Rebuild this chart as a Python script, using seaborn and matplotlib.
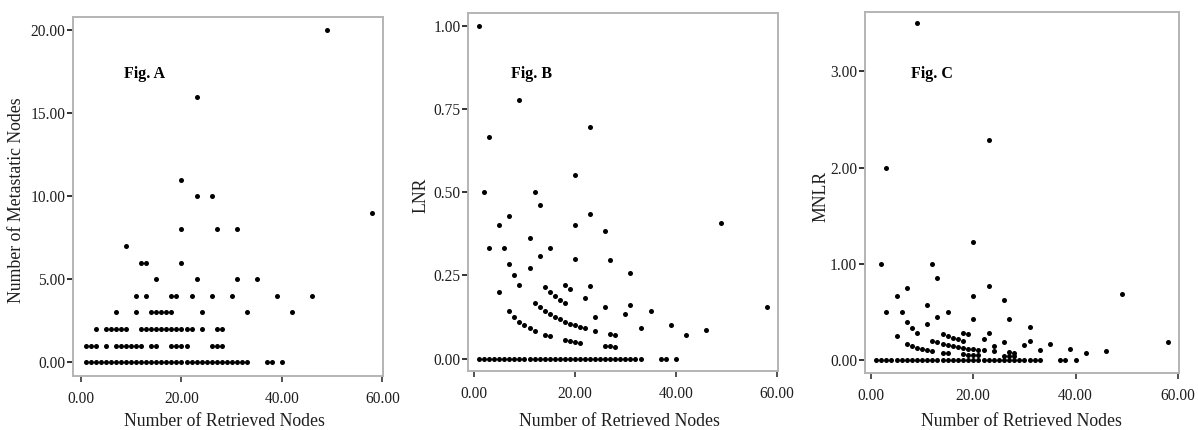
# Three SPSS-style scatter panels: metastatic nodes, LNR and MNLR
# against the number of retrieved nodes.

import numpy as np
import pandas as pd
import matplotlib
matplotlib.use('Agg')
import matplotlib.pyplot as plt
from matplotlib.ticker import FormatStrFormatter
import seaborn as sns

RETRIEVED_M0 = [1, 2, 3, 4, 5, 6, 7, 8, 9, 10, 11, 12, 13, 14, 15, 16, 17, 18, 19, 20,
                21, 22, 23, 24, 25, 26, 27, 28, 29, 30, 31, 32, 33, 37, 38, 40]
RETRIEVED_M1 = [1, 2, 3, 5, 7, 8, 9, 10, 11, 12, 14, 15, 18, 19, 20, 21, 26, 27, 28]
RETRIEVED_M2 = [3, 5, 6, 7, 8, 9, 12, 13, 14, 15, 16, 17, 18, 19, 20, 21, 22, 24, 27, 28]
RETRIEVED_M3 = [7, 11, 14, 15, 16, 17, 18, 24, 33, 42]
RETRIEVED_M4 = [11, 13, 18, 19, 22, 26, 30, 39, 46]
RETRIEVED_M5 = [15, 23, 31, 35]
RETRIEVED_M6 = [12, 13, 20]
RETRIEVED_M7 = [9]
RETRIEVED_M8 = [20, 27, 31]
RETRIEVED_M9 = [58]
RETRIEVED_M10 = [23, 26]
RETRIEVED_M11 = [20]
RETRIEVED_M16 = [23]
RETRIEVED_M20 = [49]

GROUPS = [(0, RETRIEVED_M0), (1, RETRIEVED_M1), (2, RETRIEVED_M2), (3, RETRIEVED_M3),
          (4, RETRIEVED_M4), (5, RETRIEVED_M5), (6, RETRIEVED_M6), (7, RETRIEVED_M7),
          (8, RETRIEVED_M8), (9, RETRIEVED_M9), (10, RETRIEVED_M10), (11, RETRIEVED_M11),
          (16, RETRIEVED_M16), (20, RETRIEVED_M20)]

X_TICKS = [0, 20, 40, 60]
A_TICKS = [0, 5, 10, 15, 20]
B_TICKS = [0, 0.25, 0.5, 0.75, 1.0]
C_TICKS = [0, 1, 2, 3]

SPINE_GREY = '#b4b4b4'
TEXT = '#1e1e1e'


def build_frame():
    rows = [(r, m) for m, rs in GROUPS for r in rs]
    df = pd.DataFrame(rows, columns=['retrieved', 'metastatic'])
    df['lnr'] = df['metastatic'] / df['retrieved']
    negative = df['retrieved'] - df['metastatic']
    # MNLR = metastatic / negative nodes; undefined when every node is positive
    df['mnlr'] = np.where(negative > 0, df['metastatic'] / negative.replace(0, np.nan), np.nan)
    return df


def style_axis(ax, xlim, ylim, yticks):
    ax.set_xlim(*xlim)
    ax.set_ylim(*ylim)
    ax.set_xticks(X_TICKS)
    ax.set_yticks(yticks)
    ax.xaxis.set_major_formatter(FormatStrFormatter('%.2f'))
    ax.yaxis.set_major_formatter(FormatStrFormatter('%.2f'))
    for s in ax.spines.values():
        s.set_visible(True)
        s.set_color(SPINE_GREY)
        s.set_linewidth(1.4)
    ax.tick_params(axis='y', direction='out', length=4, width=1.4, pad=1.5,
                   color='#333333', labelsize=11.2, labelcolor=TEXT, left=True)
    ax.tick_params(axis='x', direction='out', length=4, width=1.2, pad=7,
                   color='#333333', labelsize=11.2, labelcolor=TEXT, bottom=True)


def draw_panel(ax, df, ycol, ylabel, tag, xlim, ylim, yticks, ylab_x, xlab_pos, tag_pos):
    sns.scatterplot(data=df, x='retrieved', y=ycol, ax=ax, color='black',
                    s=13, linewidth=0, legend=False)
    style_axis(ax, xlim, ylim, yticks)
    ax.set_xlabel('Number of Retrieved Nodes', fontsize=12.8, color=TEXT)
    ax.set_ylabel(ylabel, fontsize=12.8, color=TEXT)
    ax.xaxis.set_label_coords(*xlab_pos)
    ax.xaxis.label.set_va('center')
    ax.yaxis.set_label_coords(ylab_x, 0.49)
    ax.yaxis.label.set_va('center')
    ax.text(tag_pos[0], tag_pos[1], tag, transform=ax.transAxes, fontsize=11.5,
            fontweight='bold', va='center', ha='left', color='black')


def main():
    sns.set_style('white')
    plt.rcParams['font.family'] = ['Liberation Serif', 'DejaVu Serif']

    df = build_frame()

    fig = plt.figure(figsize=(11.98, 4.30), dpi=100)
    ax_a = fig.add_axes([0.0609, 0.1256, 0.2588, 0.8349])
    ax_b = fig.add_axes([0.3909, 0.1372, 0.2583, 0.8319])
    ax_c = fig.add_axes([0.7220, 0.1326, 0.2621, 0.8402])

    draw_panel(ax_a, df, 'metastatic', 'Number of Metastatic Nodes', 'Fig. A',
               (-1.6, 60.1), (-0.83, 20.8), A_TICKS, -0.181, (0.487, -0.127), (0.165, 0.841))
    draw_panel(ax_b, df, 'lnr', 'LNR', 'Fig. B',
               (-1.13, 60.2), (-0.037, 1.037), B_TICKS, -0.153, (0.49, -0.141), (0.137, 0.830))
    draw_panel(ax_c, df, 'mnlr', 'MNLR', 'Fig. C',
               (-1.17, 60.2), (-0.135, 3.62), C_TICKS, -0.14, (0.497, -0.134), (0.146, 0.828))

    fig.savefig('out.png', dpi=100)
    plt.close(fig)


if __name__ == '__main__':
    main()
